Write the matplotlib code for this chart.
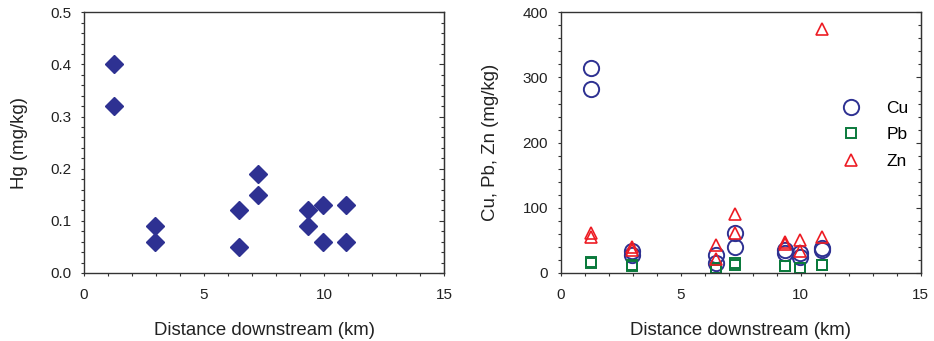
import matplotlib
matplotlib.use('Agg')
import matplotlib.pyplot as plt
from matplotlib.ticker import MultipleLocator, FormatStrFormatter

plt.rcParams['font.family'] = ['Liberation Sans', 'DejaVu Sans']

# distance downstream (km), two samples per site
dist = [1.25, 1.25, 2.95, 2.95, 6.45, 6.45, 7.25, 7.25, 9.35, 9.35, 9.95, 9.95, 10.9, 10.9]

hg = [0.40, 0.32, 0.09, 0.06, 0.12, 0.05, 0.19, 0.15, 0.12, 0.09, 0.13, 0.06, 0.13, 0.06]
cu = [315, 283, 33, 27, 28, 15, 61, 40, 35, 30, 31, 25, 38, 36]
pb = [17, 16, 12, 10, 7, 4, 15, 12, 10, 10, 7, 7, 12, 12]
zn = [62, 56, 40, 35, 43, 22, 90, 61, 48, 45, 50, 34, 374, 56]

navy = '#2e3192'
green = '#0b7a3c'
red = '#ed1c24'
dark = '#333333'

fig = plt.figure(figsize=(9.34, 3.41), dpi=100)
ax1 = fig.add_axes([84/934, 68/341, 360/934, 260.7/341])
ax2 = fig.add_axes([560.7/934, 68/341, 360/934, 260.7/341])


def style(ax, ymax, ymajor, yminor):
    ax.set_xlim(0, 15)
    ax.set_ylim(0, ymax)
    ax.xaxis.set_major_locator(MultipleLocator(5))
    ax.xaxis.set_minor_locator(MultipleLocator(1))
    ax.yaxis.set_major_locator(MultipleLocator(ymajor))
    ax.yaxis.set_minor_locator(MultipleLocator(yminor))
    for s in ax.spines.values():
        s.set_color(dark)
        s.set_linewidth(1.0)
    ax.tick_params(which='both', direction='out', colors=dark, labelsize=11,
                   labelcolor='#222222', width=0.8)
    ax.tick_params(which='major', length=2.5)
    ax.tick_params(which='minor', length=2)
    ax.tick_params(axis='y', which='major', pad=6.5)
    ax.tick_params(axis='x', which='major', pad=8.5)
    # inward ticks on the right spine
    sec = ax.secondary_yaxis('right')
    sec.yaxis.set_major_locator(MultipleLocator(ymajor))
    sec.yaxis.set_minor_locator(MultipleLocator(yminor))
    sec.tick_params(which='both', direction='in', colors=dark, labelright=False, width=0.8)
    sec.tick_params(which='major', length=3.5)
    sec.tick_params(which='minor', length=2.5)
    sec.spines['right'].set_color(dark)
    ax.set_xlabel('Distance downstream (km)', fontsize=13.4, color='#222222', labelpad=14)


# Hg panel
ax1.plot(dist, hg, linestyle='none', marker='D', ms=9, color=navy, mec=navy)
style(ax1, 0.5, 0.1, 0.02)
ax1.yaxis.set_major_formatter(FormatStrFormatter('%.1f'))
ax1.set_ylabel('Hg (mg/kg)', fontsize=13.4, color='#222222', labelpad=16.3)

# Cu, Pb, Zn panel
ax2.plot(dist, cu, linestyle='none', marker='o', ms=11, mfc='none', mec=navy, mew=1.4, label='Cu')
ax2.plot(dist, pb, linestyle='none', marker='s', ms=7.2, mfc='none', mec=green, mew=1.4, label='Pb')
ax2.plot(dist, zn, linestyle='none', marker='^', ms=8.5, mfc='none', mec=red, mew=1.2, label='Zn')
style(ax2, 400, 100, 20)
ax2.set_ylabel('Cu, Pb, Zn (mg/kg)', fontsize=13.4, color='#222222', labelpad=17.4)
ax2.legend(loc='center left', bbox_to_anchor=(0.745, 0.53), frameon=False, fontsize=12.5,
           handletextpad=1.3, labelspacing=0.65, borderpad=0, handlelength=1.5, numpoints=1)

fig.savefig('out.png', dpi=100)
